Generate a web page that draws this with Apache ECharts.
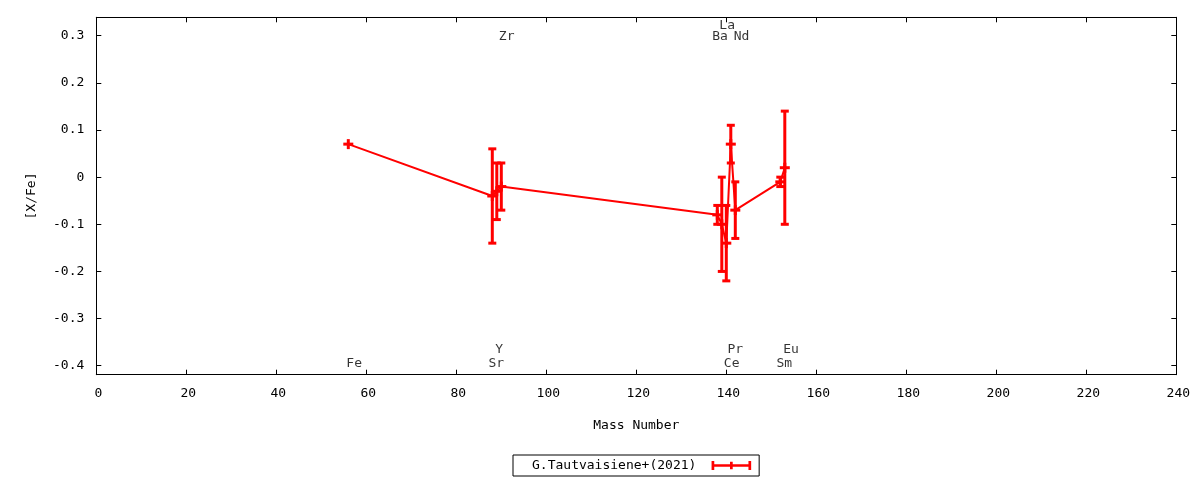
<!DOCTYPE html>
<html>
<head>
<meta charset="utf-8">
<script src="https://cdn.jsdelivr.net/npm/echarts@6/dist/echarts.min.js"></script>
<style>html,body{margin:0;padding:0;background:#fff;}#c{width:1200px;height:480px;}</style>
</head>
<body>
<div id="c"></div>
<script>
// ---- data ----
var elements = ['Fe', 'Sr', 'Y', 'Zr', 'Ba', 'La', 'Ce', 'Pr', 'Nd', 'Sm', 'Eu'];
var massNumber = [56, 88, 89, 90, 138, 139, 140, 141, 142, 152, 153];
var xFe = [0.07, -0.04, -0.03, -0.02, -0.08, -0.10, -0.14, 0.07, -0.07, -0.01, 0.02];
var xFeErr = [0.0, 0.10, 0.06, 0.05, 0.02, 0.10, 0.08, 0.04, 0.06, 0.01, 0.12];
var labelX = [57.3, 88.9, 89.5, 91.2, 138.6, 140.2, 141.2, 142.0, 143.4, 152.9, 154.4];
var labelY = [-0.395, -0.395, -0.366, 0.297, 0.297, 0.321, -0.395, -0.366, 0.297, -0.395, -0.366];
var xTicks = [0, 20, 40, 60, 80, 100, 120, 140, 160, 180, 200, 220, 240];
var yTicks = [-0.4, -0.3, -0.2, -0.1, 0, 0.1, 0.2, 0.3];
var seriesName = 'G.Tautvaisiene+(2021)';

var FONT = 'DejaVu Sans Mono';
var RED = '#ff0000';

var lineData = massNumber.map(function (m, i) { return [m, xFe[i]]; });
var errData = massNumber.map(function (m, i) { return [m, xFe[i] - xFeErr[i], xFe[i] + xFeErr[i], xFe[i]]; });
var labelData = elements.map(function (e, i) { return { value: [labelX[i], labelY[i]], name: e }; });

var chart = echarts.init(document.getElementById('c'), null, { renderer: 'canvas' });

function renderErr(params, api) {
  var x = api.value(0);
  var lo = api.coord([x, api.value(1)]);
  var hi = api.coord([x, api.value(2)]);
  var c = api.coord([x, api.value(3)]);
  var style = { stroke: RED, lineWidth: 3, fill: null };
  var children = [];
  if (Math.abs(hi[1] - lo[1]) > 0.5) {
    children.push({ type: 'line', shape: { x1: lo[0], y1: lo[1], x2: hi[0], y2: hi[1] }, style: style });
    children.push({ type: 'line', shape: { x1: lo[0] - 4, y1: lo[1], x2: lo[0] + 4, y2: lo[1] }, style: style });
    children.push({ type: 'line', shape: { x1: hi[0] - 4, y1: hi[1], x2: hi[0] + 4, y2: hi[1] }, style: style });
  }
  children.push({ type: 'line', shape: { x1: c[0] - 5, y1: c[1], x2: c[0] + 5, y2: c[1] }, style: style });
  children.push({ type: 'line', shape: { x1: c[0], y1: c[1] - 5, x2: c[0], y2: c[1] + 5 }, style: style });
  return { type: 'group', children: children };
}

var axisCommon = {
  axisLine: { show: true, onZero: false, lineStyle: { color: '#000', width: 1 } },
  splitLine: { show: false }
};

var option = {
  animation: false,
  backgroundColor: '#fff',
  grid: { left: 96.3, right: 23.7, top: 17.3, bottom: 105.3, containLabel: false },
  legend: {
    show: true,
    data: [{ name: seriesName }],
    left: 513,
    top: 455,
    align: 'right',
    orient: 'horizontal',
    borderColor: '#000',
    borderWidth: 1,
    borderRadius: 0,
    padding: [4, 8, 4, 19],
    itemWidth: 44,
    itemHeight: 9,
    icon: 'path://M0,0h3v10h-3z M3,3.6h38v2.8h-38z M41,0h3v10h-3z M20.5,0.8h3v8.4h-3z',
    textStyle: { fontFamily: FONT, fontSize: 13, color: '#000', padding: [0, 8, 0, 0] },
    itemStyle: { color: RED },
    selectedMode: false
  },
  xAxis: [
    Object.assign({
      type: 'value', position: 'bottom', min: 0, max: 240, interval: 20,
      name: 'Mass Number', nameLocation: 'middle', nameGap: 44,
      nameTextStyle: { fontFamily: FONT, fontSize: 13, color: '#000' },
      axisTick: { show: true, inside: true, length: 5, lineStyle: { color: '#000' } },
      axisLabel: { show: true, fontFamily: FONT, fontSize: 13, color: '#000', margin: 12,
        padding: [0, 0, 0, 4], customValues: xTicks }
    }, axisCommon),
    Object.assign({
      type: 'value', position: 'top', min: 0, max: 240, interval: 20,
      axisTick: { show: true, inside: true, length: 5, lineStyle: { color: '#000' } },
      axisLabel: { show: false }
    }, axisCommon)
  ],
  yAxis: [
    Object.assign({
      type: 'value', position: 'left', min: -0.419, max: 0.339,
      name: '[X/Fe]', nameLocation: 'middle', nameGap: 58, nameRotate: 90,
      nameTextStyle: { fontFamily: FONT, fontSize: 13, color: '#000' },
      axisTick: { show: true, inside: true, length: 5, lineStyle: { color: '#000' }, customValues: yTicks },
      axisLabel: { show: true, fontFamily: FONT, fontSize: 13, color: '#000', margin: 12,
        customValues: yTicks,
        formatter: function (v) { return Math.abs(v) < 1e-9 ? '0' : String(Math.round(v * 10) / 10); } }
    }, axisCommon),
    Object.assign({
      type: 'value', position: 'right', min: -0.419, max: 0.339,
      axisTick: { show: true, inside: true, length: 5, lineStyle: { color: '#000' }, customValues: yTicks },
      axisLabel: { show: false }
    }, axisCommon)
  ],
  series: [
    {
      name: seriesName,
      type: 'line',
      xAxisIndex: 0, yAxisIndex: 0,
      data: lineData,
      showSymbol: false,
      symbol: 'none',
      lineStyle: { color: RED, width: 2 },
      itemStyle: { color: RED },
      z: 2
    },
    {
      name: 'err',
      type: 'custom',
      xAxisIndex: 0, yAxisIndex: 0,
      data: errData,
      renderItem: renderErr,
      encode: { x: 0, y: [1, 2, 3] },
      z: 3
    },
    {
      name: 'labels',
      type: 'scatter',
      xAxisIndex: 0, yAxisIndex: 0,
      data: labelData,
      symbolSize: 0,
      label: {
        show: true, position: 'inside', formatter: '{b}',
        fontFamily: FONT, fontSize: 13, color: '#000'
      },
      silent: true,
      z: 4
    }
  ]
};
chart.setOption(option);
</script>
</body>
</html>
